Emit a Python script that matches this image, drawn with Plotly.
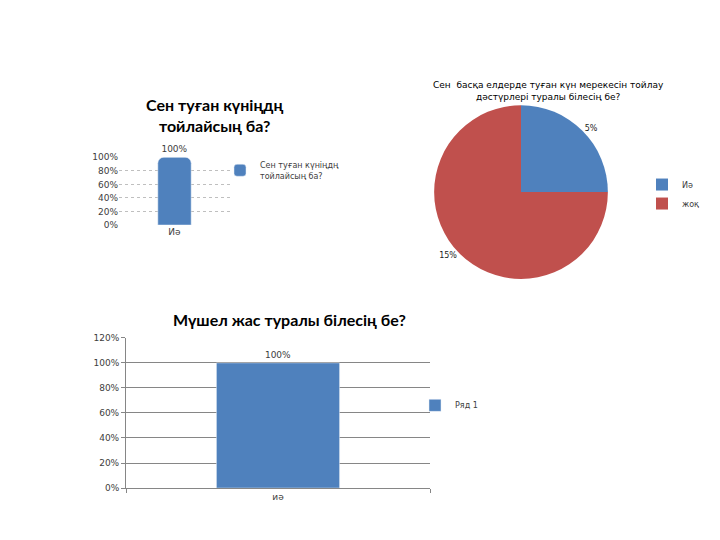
import plotly.graph_objects as go

# chart 1: cylinder question
q1_title = "Сен туған күніңдң<br>тойлайсың ба?"
q1_series = "Сен туған күніңдң<br>тойлайсың ба?"
q1_cats = ["Иә"]
q1_vals = [1.0]

# chart 2: pie question
q2_title = "Сен  басқа елдерде туған күн мерекесін тойлау<br>дәстүрлері туралы білесің бе?"
q2_labels = ["Иә", "жоқ"]
q2_vals = [5, 15]

# chart 3: bar question
q3_title = "Мүшел жас туралы білесің бе?"
q3_series = "Ряд 1"
q3_cats = ["иә"]
q3_vals = [1.0]

blue = "#4f81bd"
red = "#c0504d"
small = dict(family="DejaVu Sans", size=9, color="#404040")
leg_font = dict(family="DejaVu Sans", size=8, color="#404040")

fig = go.Figure()

fig.add_trace(go.Bar(
    x=q1_cats, y=q1_vals, name=q1_series, xaxis="x", yaxis="y",
    marker=dict(color=blue, cornerradius=6), width=0.3,
    texttemplate="%{y:.0%}", textposition="outside", textfont=small,
    cliponaxis=False, legend="legend", showlegend=True,
))

fig.add_trace(go.Pie(
    labels=q2_labels, values=q2_vals, sort=False, direction="clockwise", rotation=0,
    marker=dict(colors=[blue, red]),
    texttemplate="%{value}%", textposition="outside",
    textfont=dict(family="DejaVu Sans", size=8, color="#222222"),
    domain=dict(x=[423 / 720, 603 / 720], y=[1 - 271 / 540, 1 - 94 / 540]),
    legend="legend2", showlegend=True,
))

fig.add_trace(go.Bar(
    x=q3_cats, y=q3_vals, name=q3_series, xaxis="x2", yaxis="y2",
    marker=dict(color=blue), width=0.405,
    texttemplate="%{y:.0%}", textposition="outside", textfont=small,
    cliponaxis=False, legend="legend3", showlegend=True,
))

fig.update_layout(
    width=720, height=540,
    margin=dict(l=0, r=0, t=0, b=0),
    paper_bgcolor="white", plot_bgcolor="white",
    font=small, showlegend=True,
    xaxis=dict(domain=[111 / 720, 222 / 720], anchor="y", showgrid=False,
               showline=False, tickfont=small, ticks=""),
    yaxis=dict(domain=[1 - 216 / 540, 1 - 147 / 540], anchor="x", range=[0, 1.0],
               dtick=0.2, tickformat=".0%", showgrid=True, gridcolor="#bfbfbf",
               griddash="dot", zeroline=False, tickfont=small, showline=False),
    xaxis2=dict(domain=[118 / 720, 422 / 720], anchor="y2", showgrid=False,
                showline=True, linecolor="#868686", ticks="outside", tickson="boundaries",
                ticklen=4, tickcolor="#868686", tickfont=small),
    yaxis2=dict(domain=[1 - 484 / 540, 1 - 331 / 540], anchor="x2", range=[0, 1.2],
                dtick=0.2, tickformat=".0%", showgrid=True, gridcolor="#868686",
                zeroline=False, showline=True, linecolor="#868686", ticks="outside",
                ticklen=4, tickcolor="#868686", tickfont=small),
    legend=dict(x=212 / 720, y=1 - 143 / 540, xanchor="left", yanchor="top",
                font=leg_font, bgcolor="rgba(0,0,0,0)", itemwidth=30),
    legend2=dict(x=634 / 720, y=1 - 160 / 540, xanchor="left", yanchor="top",
                 font=leg_font, bgcolor="rgba(0,0,0,0)", itemwidth=30,
                 tracegroupgap=0),
    legend3=dict(x=407 / 720, y=1 - 385 / 540, xanchor="left", yanchor="top",
                 font=leg_font, bgcolor="rgba(0,0,0,0)", itemwidth=30),
    annotations=[
        dict(text="<b>" + q1_title + "</b>", x=206 / 720, y=1 - 104 / 540,
             xref="paper", yref="paper", xanchor="center", yanchor="middle",
             showarrow=False, font=dict(family="Lato", size=16, color="#000000")),
        dict(text=q2_title, x=540 / 720, y=1 - 79 / 540,
             xref="paper", yref="paper", xanchor="center", yanchor="middle",
             showarrow=False, font=dict(family="DejaVu Sans", size=9, color="#000000")),
        dict(text="<b>" + q3_title + "</b>", x=281 / 720, y=1 - 312 / 540,
             xref="paper", yref="paper", xanchor="center", yanchor="middle",
             showarrow=False, font=dict(family="Lato", size=16, color="#000000")),
    ],
)

fig.write_html("out.html")
